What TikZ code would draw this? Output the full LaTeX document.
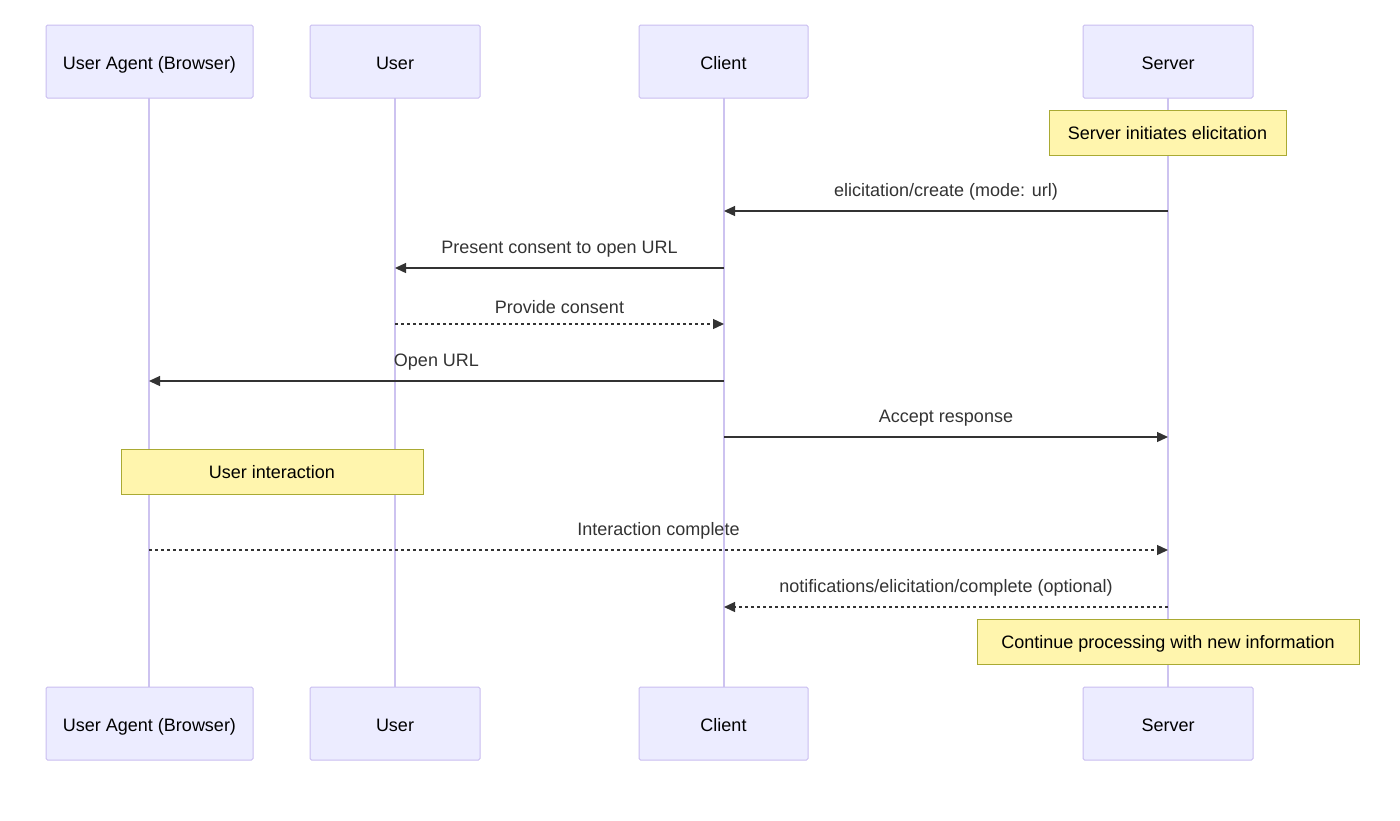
\documentclass[tikz,border=0pt]{standalone}
\usepackage{fontspec}
\setmainfont{Liberation Sans}
\usetikzlibrary{arrows.meta,positioning}
\definecolor{actfill}{HTML}{ECECFF}
\definecolor{actbord}{HTML}{C9BDF0}
\definecolor{actline}{HTML}{CDC3F0}
\definecolor{notefill}{HTML}{FFF5AD}
\definecolor{noteline}{HTML}{AAAA33}
\definecolor{txt}{HTML}{333333}
\begin{document}
\begin{tikzpicture}[x=1pt,y=-1pt,>={Triangle[length=11pt,width=10pt]},
  font=\fontsize{18}{21}\selectfont,
  actor/.style={draw=actbord,line width=1pt,fill=actfill,rounded corners=1.5pt,minimum width=169pt,minimum height=73pt,inner sep=0pt,text height=16pt,text depth=0pt},
  note/.style={draw=noteline,line width=1pt,fill=notefill,minimum height=45pt,inner sep=0pt,text height=15pt,text depth=1pt},
  life/.style={actline,line width=1.6pt},
  msg/.style={->,txt,line width=1.3pt},
  reply/.style={msg,dash pattern=on 3pt off 3pt},
  lbl/.style={txt,above=10pt,inner sep=0pt}]
  \useasboundingbox (0,0) rectangle (1400,820);
  % lifelines first
  \draw[life] (149,98) -- (149,687);
  \draw[life] (395,98) -- (395,687);
  \draw[life] (724,98) -- (724,687);
  \draw[life] (1168,98) -- (1168,687);
  % actors
  \node[actor,minimum width=207pt] (ua) at (149.5,61.5) {User Agent (Browser)};
  \node[actor,minimum width=170pt] (us) at (395,61.5) {User};
  \node[actor] (cl) at (723.5,61.5) {Client};
  \node[actor,minimum width=170pt] (sv) at (1168,61.5) {Server};
  \node[actor,minimum width=207pt] (ua2) at (149.5,723.5) {User Agent (Browser)};
  \node[actor,minimum width=170pt] (us2) at (395,723.5) {User};
  \node[actor] (cl2) at (723.5,723.5) {Client};
  \node[actor,minimum width=170pt] (sv2) at (1168,723.5) {Server};
  % notes
  \node[note,minimum width=237pt] (n1) at (1167.5,132.5) {Server initiates elicitation};
  \node[note,minimum width=302pt] (n2) at (272,471.5) {User interaction};
  \node[note,minimum width=382pt] (n3) at (1168,641.5) {Continue processing with new information};
  % messages
  \coordinate (s1) at (1168,211); \coordinate (c1) at (724,211);
  \draw[msg] (s1) -- node[lbl] {elicitation/create (mode: url)} (c1);
  \coordinate (c2) at (724,268); \coordinate (u2) at (395,268);
  \draw[msg] (c2) -- node[lbl] {Present consent to open URL} (u2);
  \coordinate (u3) at (395,324); \coordinate (c3) at (724,324);
  \draw[reply] (u3) -- node[lbl] {Provide consent} (c3);
  \coordinate (c4) at (724,381); \coordinate (a4) at (149,381);
  \draw[msg] (c4) -- node[lbl] {Open URL} (a4);
  \coordinate (c5) at (724,437); \coordinate (s5) at (1168,437);
  \draw[msg] (c5) -- node[lbl] {Accept response} (s5);
  \coordinate (a6) at (149,550); \coordinate (s6) at (1168,550);
  \draw[reply] (a6) -- node[lbl] {Interaction complete} (s6);
  \coordinate (s7) at (1168,607); \coordinate (c7) at (724,607);
  \draw[reply] (s7) -- node[lbl] {notifications/elicitation/complete (optional)} (c7);
\end{tikzpicture}
\end{document}
